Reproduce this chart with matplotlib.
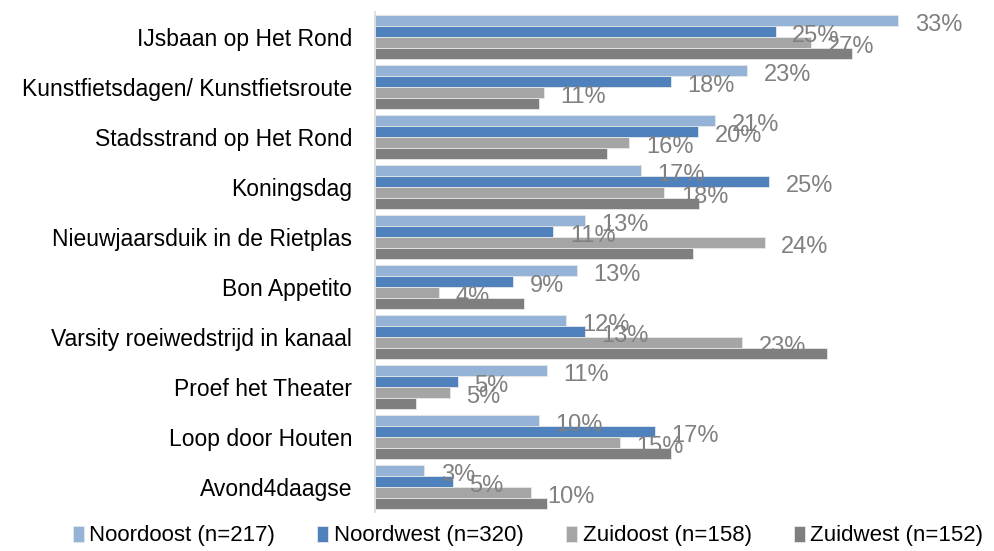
import matplotlib
matplotlib.use("Agg")
import matplotlib.pyplot as plt
import numpy as np

categories = ["IJsbaan op Het Rond", "Kunstfietsdagen/ Kunstfietsroute", "Stadsstrand op Het Rond",
              "Koningsdag", "Nieuwjaarsduik in de Rietplas", "Bon Appetito",
              "Varsity roeiwedstrijd in kanaal", "Proef het Theater", "Loop door Houten", "Avond4daagse"]
series = ["Noordoost (n=217)", "Noordwest (n=320)", "Zuidoost (n=158)", "Zuidwest (n=152)"]
noordoost = [32.9, 23.4, 21.4, 16.7, 13.2, 12.7, 12.0, 10.8, 10.3, 3.1]
noordwest = [25.2, 18.6, 20.3, 24.8, 11.2, 8.7, 13.2, 5.2, 17.6, 4.9]
zuidoost = [27.4, 10.6, 16.0, 18.2, 24.5, 4.0, 23.1, 4.7, 15.4, 9.8]
zuidwest = [30.0, 10.3, 14.6, 20.4, 20.0, 9.4, 28.4, 2.6, 18.6, 10.8]
labels_no = ["33%", "23%", "21%", "17%", "13%", "13%", "12%", "11%", "10%", "3%"]
labels_nw = ["25%", "18%", "20%", "25%", "11%", "9%", "13%", "5%", "17%", "5%"]
labels_zo = ["27%", "11%", "16%", "18%", "24%", "4%", "23%", "5%", "15%", "10%"]

colors = ["#95B3D7", "#4F81BD", "#A5A5A5", "#7F7F7F"]
plt.rcParams['font.family'] = ['Liberation Sans', 'DejaVu Sans']

fig = plt.figure(figsize=(9.94, 5.51), dpi=100)
ax = fig.add_axes([375/994, 1-512/551, 609/994, 500/551])

y = np.arange(len(categories))
h = 0.22
data = [noordoost, noordwest, zuidoost, zuidwest]
labs = [labels_no, labels_nw, labels_zo, None]
for j, (vals, c) in enumerate(zip(data, colors)):
    pos = y + (j - 1.5) * h
    ax.barh(pos, vals, height=h, color=c, edgecolor="#E8E8E8", linewidth=0.6, label=series[j])
    if labs[j] is not None:
        for p, v, t in zip(pos, vals, labs[j]):
            ax.annotate(t, (v, p), xytext=(12, -3), textcoords="offset points",
                        ha="left", va="center", fontsize=17, color="#808080")

ax.set_ylim(len(categories) - 0.5, -0.5)
ax.set_xlim(0, 38.3)
ax.set_yticks(y)
ax.set_yticklabels(categories, fontsize=16.5, color="black")
ax.tick_params(axis="y", length=0, pad=16.5)
ax.set_xticks([])
for s in ["top", "right", "bottom"]:
    ax.spines[s].set_visible(False)
ax.spines["left"].set_color("#D9D9D9")
ax.spines["left"].set_linewidth(1.2)

fig.legend(loc="center", bbox_to_anchor=(528/994, 1-536/551), ncol=4, frameon=False,
           fontsize=16, handlelength=0.5, handleheight=0.7, handletextpad=0.25,
           columnspacing=1.9, borderpad=0.1)

fig.savefig("out.png", dpi=100)
